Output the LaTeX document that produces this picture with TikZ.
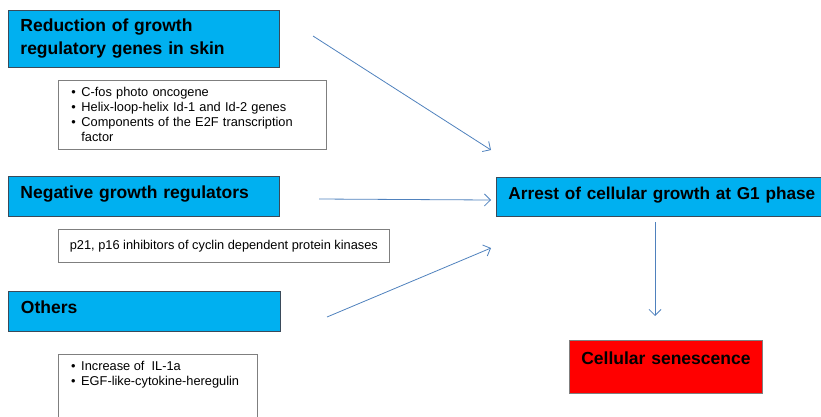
\documentclass[tikz,border=0pt]{standalone}
\usepackage{fontspec}
\setmainfont{Liberation Sans}
\usetikzlibrary{arrows.meta}
\definecolor{boxblue}{HTML}{00B0F0}
\definecolor{boxedge}{HTML}{3A4A5A}
\definecolor{subedge}{HTML}{7F7F7F}
\definecolor{arrowblue}{HTML}{4F81BD}
\newcommand{\bul}{\makebox[10pt][l]{\textbullet}}
\tikzset{
  bluebox/.style={draw=boxedge, line width=0.9pt, fill=boxblue, anchor=north west,
    font=\fontsize{17.5}{23}\selectfont\bfseries, align=left, inner xsep=12pt},
  subbox/.style={draw=subedge, line width=0.8pt, fill=white, anchor=north west,
    font=\fontsize{12.8}{15}\selectfont, align=left},
  redbox/.style={draw=subedge, line width=0.8pt, fill=red, anchor=north west,
    font=\fontsize{17.5}{21}\selectfont\bfseries, align=center},
  conn/.style={draw=arrowblue, line width=0.8pt, -{Straight Barb[length=6pt,width=12pt]}},
}
\begin{document}
\begin{tikzpicture}[x=1pt,y=-1pt]
\useasboundingbox (0,0) rectangle (821,416);
% left column
\node[bluebox, minimum width=271pt, minimum height=57pt, text width=247pt, inner ysep=0pt] (b1) at (8,10)
  {Reduction of growth\\regulatory genes in skin};
\node[subbox, minimum width=268pt, minimum height=69pt, inner xsep=13pt, text width=242pt, inner ysep=0pt] (s1) at (58,80)
  {\bul C-fos photo oncogene\\
   \bul Helix-loop-helix Id-1 and Id-2 genes\\
   \bul Components of the E2F transcription\\
   \hphantom{\bul}factor};
\node[bluebox, minimum width=271pt, minimum height=40pt, text width=247pt, inner ysep=10pt, text height=12pt, text depth=8pt] (b2) at (8,176)
  {Negative growth regulators};
\node[subbox, minimum width=331pt, minimum height=33pt, inner xsep=10pt] (s2) at (58,229)
  {p21, p16 inhibitors of cyclin dependent protein kinases};
\node[bluebox, minimum width=272pt, minimum height=40pt, text width=247pt, inner ysep=10pt, text height=12pt, text depth=8pt] (b3) at (8,291)
  {Others};
\node[subbox, minimum width=199pt, minimum height=70pt] (s3) at (58,354) {};
\node[anchor=north west, align=left, font=\fontsize{12.8}{15.5}\selectfont, inner sep=0pt] (s3t) at (71,361)
  {\bul Increase of\ \ IL-1a\\
   \bul EGF-like-cytokine-heregulin};
% right column
\node[bluebox, minimum width=330pt, minimum height=39pt, text width=330pt, inner ysep=10pt, text height=12pt, text depth=7pt, font=\fontsize{17.2}{21}\selectfont\bfseries] (arr) at (496,177)
  {Arrest of cellular growth at G1 phase};
\node[redbox, minimum width=193pt, inner xsep=0pt, text width=193pt, inner ysep=12pt, text height=12pt, text depth=17pt] (sen) at (569,340)
  {Cellular senescence};
% connectors
\coordinate (a1s) at (313,36);
\coordinate (a1e) at (491,150);
\coordinate (a2s) at (319,199);
\coordinate (a2e) at (491,200);
\coordinate (a3s) at (327,317);
\coordinate (a3e) at (491,248);
\coordinate (a4s) at (655,222);
\coordinate (a4e) at (655,316);
\draw[conn] (a1s) -- (a1e);
\draw[conn] (a2s) -- (a2e);
\draw[conn] (a3s) -- (a3e);
\draw[conn] (a4s) -- (a4e);
\end{tikzpicture}
\end{document}
